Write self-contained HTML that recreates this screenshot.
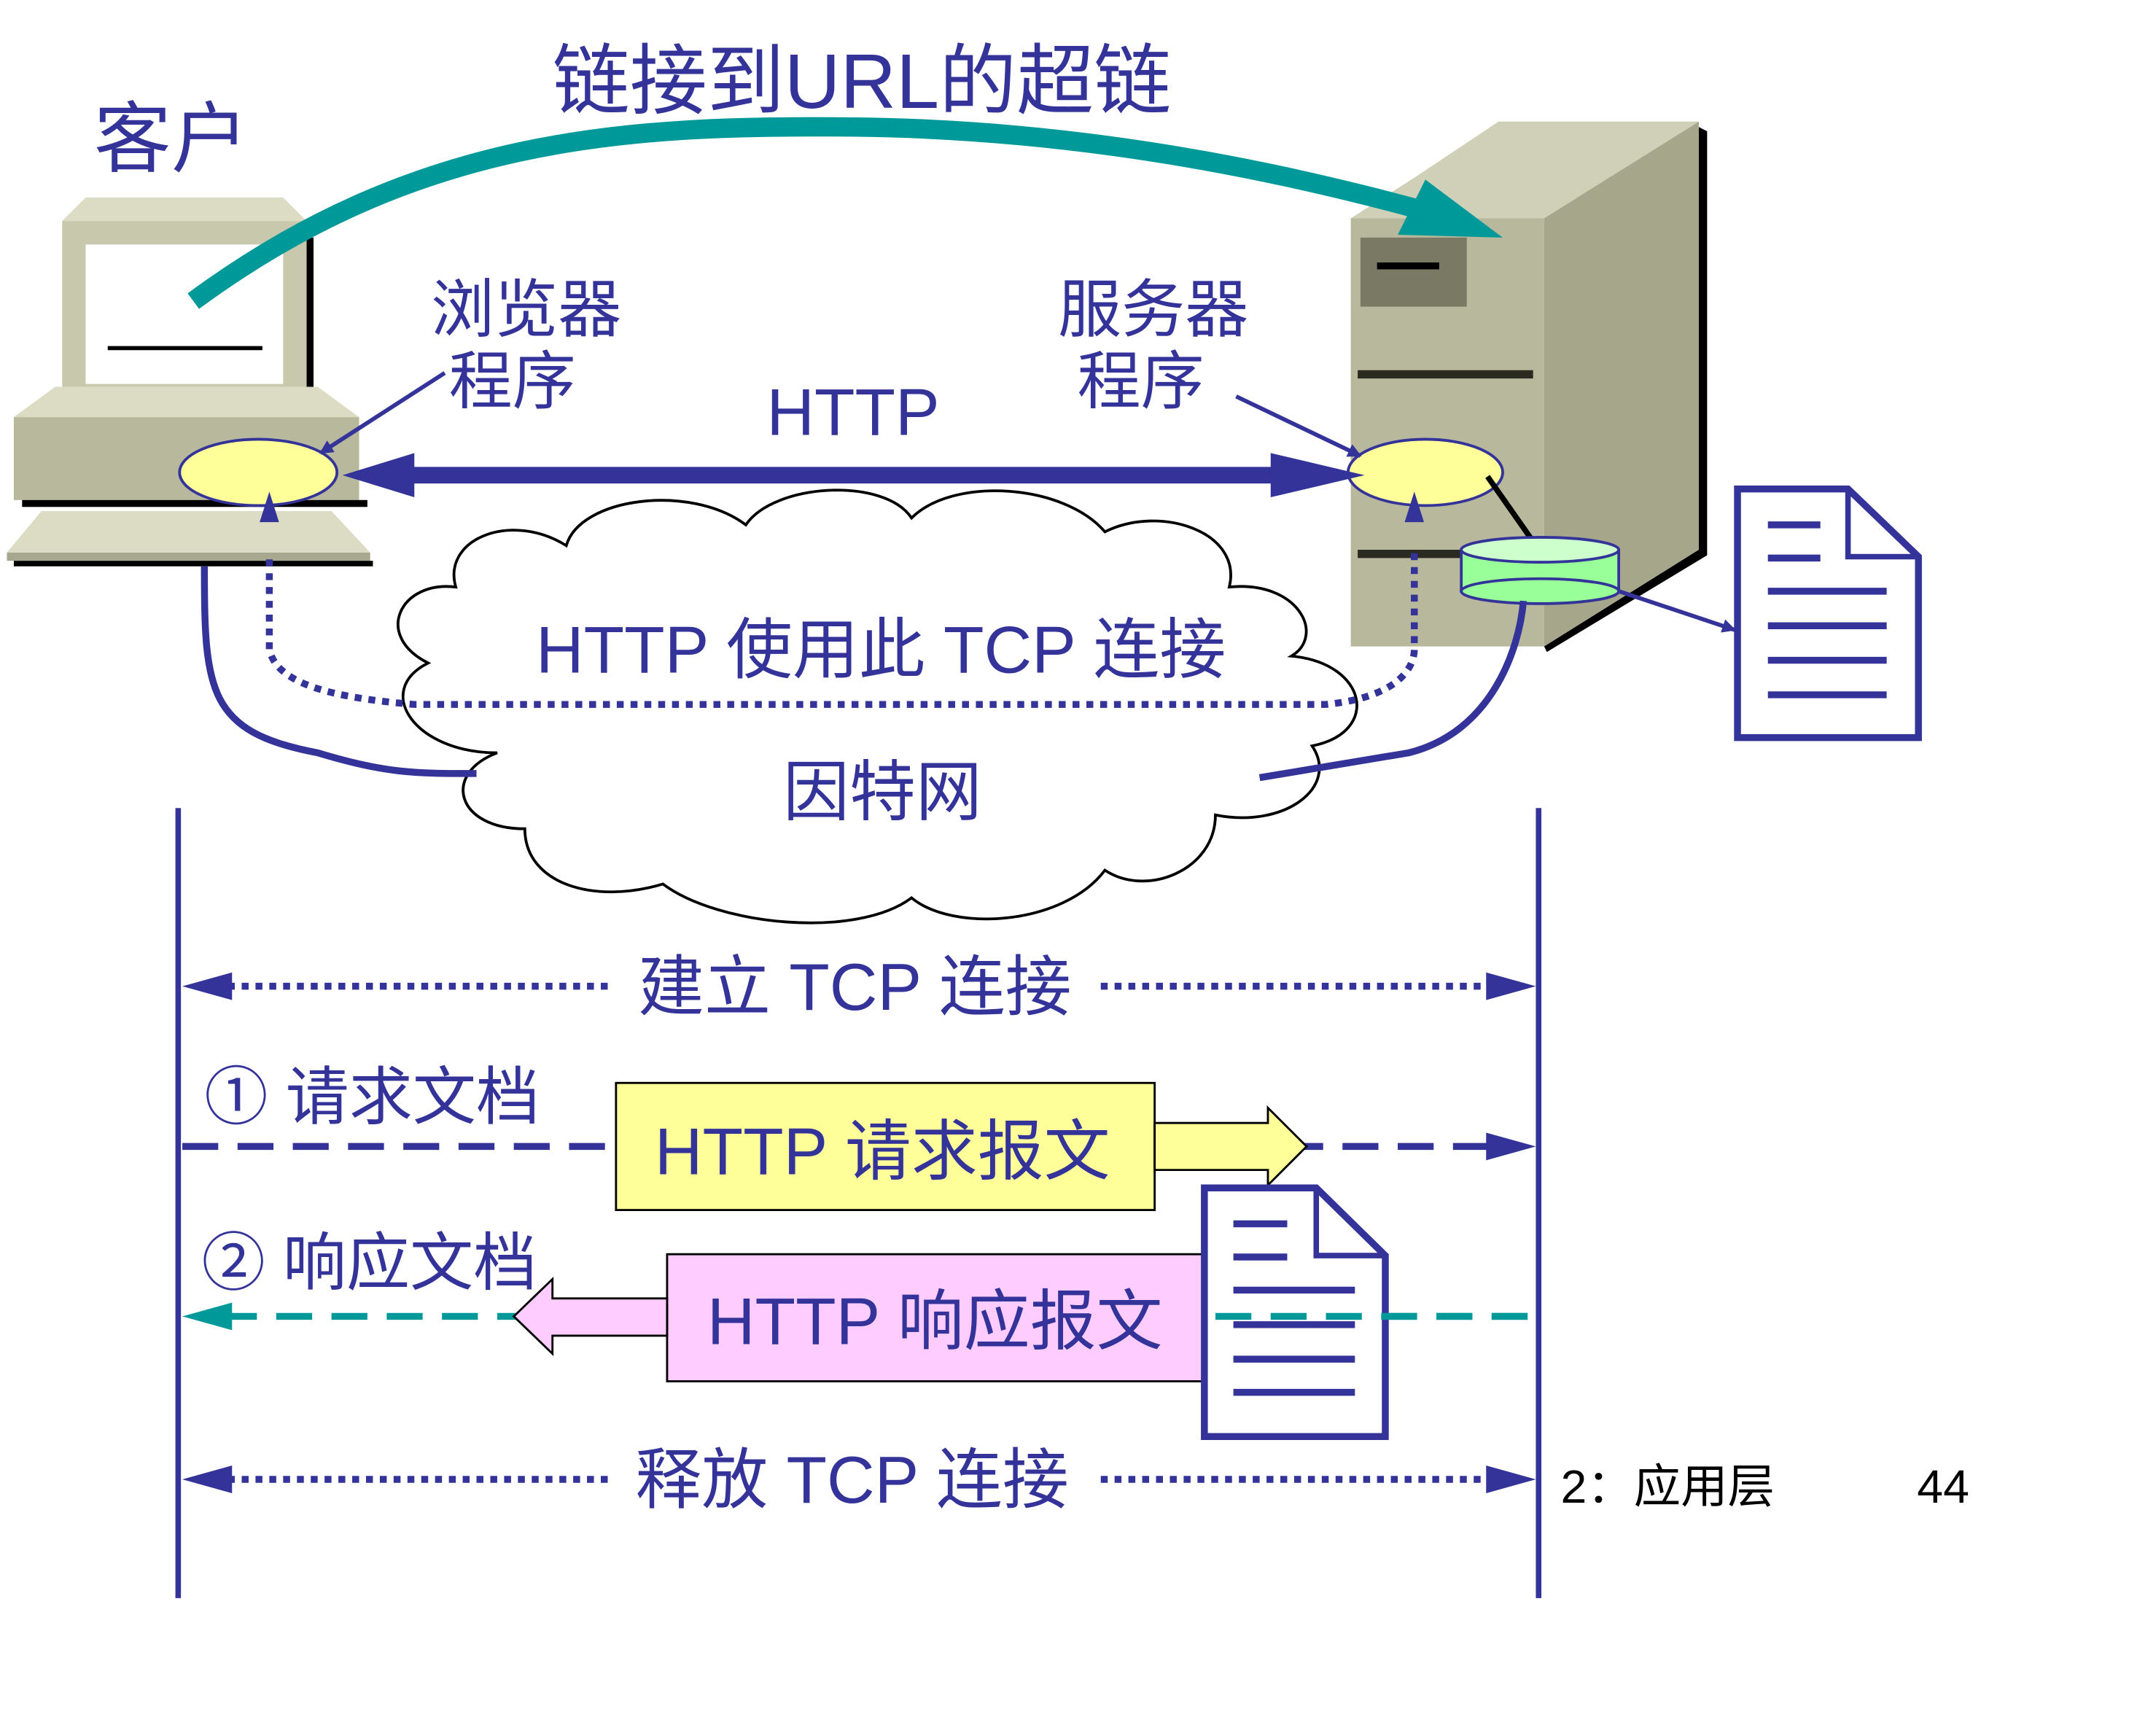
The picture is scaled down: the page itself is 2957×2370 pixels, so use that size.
<!DOCTYPE html>
<html><head><meta charset="utf-8"><style>
html,body{margin:0;padding:0;background:#fff;}
svg{display:block;}
text{font-family:"Liberation Sans","Noto Sans CJK SC",sans-serif;fill:#333399;}
</style></head><body>
<svg width="2957" height="2370" viewBox="0 0 1561 1251" preserveAspectRatio="none" xmlns="http://www.w3.org/2000/svg">
<defs>
<marker id="ah" markerWidth="10" markerHeight="10" refX="9" refY="5" orient="auto" markerUnits="userSpaceOnUse"><path d="M0,0 L10,5 L0,10 z" fill="#333399"/></marker>
</defs>
<!-- title -->
<text x="400" y="78" font-size="56">链接到URL的超链</text>
<text x="68" y="120" font-size="56">客户</text>

<!-- client computer -->
<polygon points="45,160 62,143 205,143 222,160" fill="#dcdcc4"/>
<rect x="45" y="160" width="177" height="132" fill="#c8c8ac"/>
<rect x="222" y="172" width="5" height="120" fill="#000"/>
<rect x="62" y="177" width="143" height="101" fill="#fff"/>
<line x1="78" y1="252" x2="190" y2="252" stroke="#000" stroke-width="3"/>
<polygon points="10,302 40,280 230,280 260,302" fill="#dcdcc4"/>
<rect x="10" y="302" width="250" height="60" fill="#b8b89c"/>
<rect x="16" y="362" width="250" height="5" fill="#000"/>
<polygon points="5,400 30,370 240,370 268,400" fill="#dcdcc4"/>
<rect x="5" y="400" width="263" height="6" fill="#a8a890"/>
<rect x="10" y="406" width="260" height="4" fill="#000"/>
<ellipse cx="187" cy="342" rx="57" ry="24" fill="#ffff99" stroke="#333399" stroke-width="2"/>

<!-- server -->
<polygon points="978,158 1025,128 1085,88 1230,88 1118,158" fill="#d0d0b8"/>
<rect x="978" y="158" width="140" height="310" fill="#b8b89c"/>
<polygon points="1118,158 1230,88 1230,398 1118,468" fill="#a6a68a"/>
<polygon points="1230,92 1236,95 1236,402 1120,472 1118,468 1230,398" fill="#000"/>
<rect x="985" y="172" width="77" height="50" fill="#7a7a64"/>
<rect x="997" y="190" width="45" height="5" fill="#000"/>
<rect x="983" y="268" width="127" height="6" fill="#2a2a20"/>
<rect x="983" y="398" width="80" height="6" fill="#2a2a20"/>
<ellipse cx="1032" cy="342" rx="56" ry="24" fill="#ffff99" stroke="#333399" stroke-width="2"/>
<line x1="1077" y1="345" x2="1110" y2="392" stroke="#000" stroke-width="4"/>
<rect x="1058" y="398" width="114" height="30" fill="#99ff99" stroke="#333399" stroke-width="2"/>
<ellipse cx="1115" cy="428" rx="57" ry="9" fill="#99ff99" stroke="#333399" stroke-width="2"/>
<ellipse cx="1115" cy="398" rx="57" ry="9" fill="#ccffcc" stroke="#333399" stroke-width="2"/>
<line x1="1172" y1="428" x2="1256" y2="456" stroke="#333399" stroke-width="3" marker-end="url(#ah)"/>

<!-- document top right -->
<path d="M1258,354 L1338,354 L1389,403 L1389,534 L1258,534 Z" fill="#fff" stroke="#333399" stroke-width="5"/>
<path d="M1338,354 L1338,403 L1389,403" fill="none" stroke="#333399" stroke-width="4"/>
<g stroke="#333399" stroke-width="5"><line x1="1280" y1="380" x2="1318" y2="380"/><line x1="1280" y1="404" x2="1318" y2="404"/><line x1="1280" y1="428" x2="1366" y2="428"/><line x1="1280" y1="453" x2="1366" y2="453"/><line x1="1280" y1="478" x2="1366" y2="478"/><line x1="1280" y1="503" x2="1366" y2="503"/></g>

<!-- labels -->
<text x="312" y="240" font-size="46">浏览器</text>
<text x="325" y="292" font-size="46">程序</text>
<line x1="322" y1="270" x2="232" y2="328" stroke="#333399" stroke-width="3" marker-end="url(#ah)"/>
<text x="766" y="240" font-size="46">服务器</text>
<text x="780" y="292" font-size="46">程序</text>
<line x1="895" y1="287" x2="985" y2="330" stroke="#333399" stroke-width="3" marker-end="url(#ah)"/>
<text x="555" y="315" font-size="48">HTTP</text>

<!-- teal arc -->
<path d="M140,218 C300,100 450,90 620,92 C800,94 950,130 1040,155" fill="none" stroke="#009999" stroke-width="14"/>
<polygon points="1088,172 1012,170 1032,130" fill="#009999"/>

<!-- double arrow -->
<line x1="290" y1="344" x2="945" y2="344" stroke="#333399" stroke-width="12"/>
<polygon points="248,344 300,328 300,360" fill="#333399"/>
<polygon points="988,344 920,328 920,360" fill="#333399"/>

<!-- cloud -->
<g fill="#fff" stroke="#000" stroke-width="2">
<path d="M380,600 C330,600 320,560 360,545 C300,545 270,500 310,480 C270,460 290,420 330,425 C320,390 370,370 410,395 C420,360 500,350 540,380 C560,350 640,345 660,375 C690,345 770,350 800,385 C840,365 900,385 890,425 C940,420 960,460 935,475 C990,480 1000,530 950,540 C970,570 930,600 880,590 C880,630 830,650 800,630 C770,670 690,675 660,650 C620,680 520,670 480,640 C430,655 380,640 380,600 Z"/>
</g>

<!-- connections -->
<path d="M148,410 C148,500 150,530 230,545 C280,560 300,560 345,560" fill="none" stroke="#333399" stroke-width="5"/>
<path d="M1103,435 C1100,470 1080,530 1020,545 C960,555 930,560 912,563" fill="none" stroke="#333399" stroke-width="5"/>
<path d="M195,405 L195,470 C200,495 240,505 300,510 L960,510 C1010,505 1024,485 1024,470 L1024,400" fill="none" stroke="#333399" stroke-width="5" stroke-dasharray="5,5"/>
<polygon points="195,356 188,378 202,378" fill="#333399"/>
<polygon points="1024,356 1017,378 1031,378" fill="#333399"/>
<text x="388" y="487" font-size="48">HTTP 使用此 TCP 连接</text>
<text x="567" y="590" font-size="48">因特网</text>

<!-- timeline -->
<line x1="129" y1="585" x2="129" y2="1157" stroke="#333399" stroke-width="4"/>
<line x1="1114" y1="585" x2="1114" y2="1157" stroke="#333399" stroke-width="4"/>

<g stroke="#333399" stroke-width="5" stroke-dasharray="5,5">
<line x1="165" y1="714" x2="442" y2="714"/><line x1="797" y1="714" x2="1080" y2="714"/>
<line x1="165" y1="1071" x2="442" y2="1071"/><line x1="797" y1="1071" x2="1080" y2="1071"/>
</g>
<g fill="#333399">
<polygon points="132,714 168,704 168,724"/><polygon points="1112,714 1076,704 1076,724"/>
<polygon points="132,1071 168,1061 168,1081"/><polygon points="1112,1071 1076,1061 1076,1081"/>
<polygon points="1112,830 1076,820 1076,840"/>
</g>
<text x="462" y="731" font-size="48">建立 TCP 连接</text>
<text x="460" y="1088" font-size="48">释放 TCP 连接</text>

<!-- request -->
<line x1="132" y1="830" x2="1080" y2="830" stroke="#333399" stroke-width="5" stroke-dasharray="26,14"/>
<text x="148" y="810" font-size="46">① 请求文档</text>
<rect x="446" y="784" width="390" height="92" fill="#ffff99" stroke="#000" stroke-width="1.5"/>
<polygon points="836,813 918,813 918,802 946,830 918,858 918,847 836,847" fill="#ffff99" stroke="#000" stroke-width="1.5"/>
<text x="474" y="850" font-size="48">HTTP 请求报文</text>

<!-- response -->
<line x1="160" y1="953" x2="1114" y2="953" stroke="#009999" stroke-width="5" stroke-dasharray="26,14"/>
<polygon points="132,953 168,943 168,963" fill="#009999"/>
<text x="146" y="930" font-size="46">② 响应文档</text>
<rect x="483" y="908" width="389" height="92" fill="#ffccff" stroke="#000" stroke-width="1.5"/>
<polygon points="483,940 400,940 400,926 372,953 400,980 400,967 483,967" fill="#ffccff" stroke="#000" stroke-width="1.5"/>
<text x="512" y="973" font-size="48">HTTP 响应报文</text>
<path d="M872,860 L953,860 L1003,909 L1003,1040 L872,1040 Z" fill="#fff" stroke="#333399" stroke-width="5"/>
<path d="M953,860 L953,909 L1003,909" fill="none" stroke="#333399" stroke-width="4"/>
<g stroke="#333399" stroke-width="5"><line x1="893" y1="886" x2="932" y2="886"/><line x1="893" y1="910" x2="932" y2="910"/><line x1="893" y1="934" x2="981" y2="934"/><line x1="893" y1="959" x2="981" y2="959"/><line x1="893" y1="984" x2="981" y2="984"/><line x1="893" y1="1008" x2="981" y2="1008"/></g>
<line x1="880" y1="953" x2="1114" y2="953" stroke="#009999" stroke-width="5" stroke-dasharray="26,14"/>

<text x="1130" y="1088" font-size="34" style="fill:#000">2：应用层</text>
<text x="1388" y="1088" font-size="34" style="fill:#000">44</text>
</svg>
</body></html>
